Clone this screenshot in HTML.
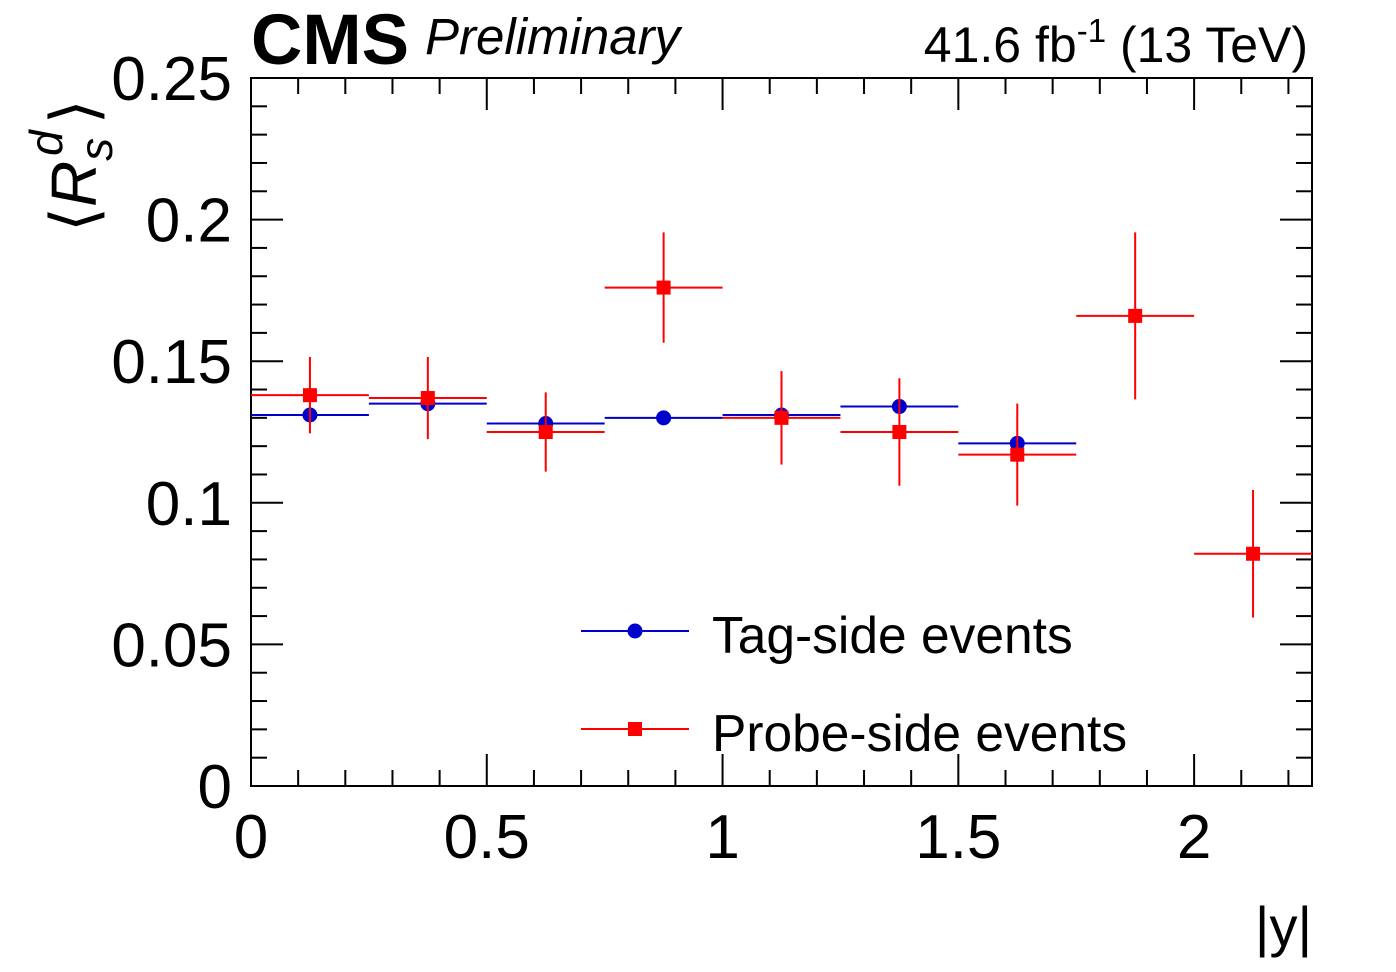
<!DOCTYPE html>
<html><head><meta charset="utf-8"><style>
html,body{margin:0;padding:0;background:#fff;}
svg{display:block;font-family:"Liberation Sans",sans-serif;}
</style></head><body>
<svg id="chart" width="1396" height="972" viewBox="0 0 1396 972" xmlns="http://www.w3.org/2000/svg">
<rect x="0" y="0" width="1396" height="972" fill="#fff"/>
<g id="axes"></g>
<g id="marks"></g>
<text x="251" y="64" font-size="71" font-weight="bold" textLength="158" lengthAdjust="spacingAndGlyphs">CMS</text>
<text x="425" y="54" font-size="51" font-style="italic">Preliminary</text>
<text x="1308" y="62" font-size="50" text-anchor="end">41.6 fb<tspan dy="-20" font-size="33">-1</tspan><tspan dy="20"> (13 TeV)</tspan></text>
<text x="1312" y="946" font-size="56" text-anchor="end">|y|</text>
<g transform="translate(96,232) rotate(-90)">
<text x="0" y="0" font-size="64">⟨<tspan font-style="italic">R</tspan><tspan font-style="italic" font-size="46" dy="16">s</tspan><tspan font-style="italic" font-size="46" dy="-50" dx="-18">d</tspan><tspan dy="34" dx="6">⟩</tspan></text>
</g>
<g>
<line x1="581" y1="631" x2="689" y2="631" stroke="#0000cc" stroke-width="2"/>
<circle cx="635" cy="631" r="7.5" fill="#0000cc"/>
<text x="712" y="653" font-size="51.5">Tag-side events</text>
<line x1="581" y1="729" x2="689" y2="729" stroke="#ff0000" stroke-width="2"/>
<rect x="628" y="722" width="14" height="14" fill="#ff0000"/>
<text x="712" y="751" font-size="51.5">Probe-side events</text>
</g>
</svg>
<script>
const binLo = [0,0.25,0.5,0.75,1.0,1.25,1.5,1.75,2.0];
const tagValues = [0.131,0.135,0.128,0.130,0.131,0.134,0.121];
const tagErrors = [0.002,0.002,0.002,0.002,0.002,0.002,0.002];
const probeValues = [0.138,0.137,0.125,0.176,0.130,0.125,0.117,0.166,0.082];
const probeErrors = [0.0135,0.0145,0.014,0.0195,0.0165,0.019,0.018,0.0295,0.0225];
const xTicks = [0,0.5,1,1.5,2];
const xTickLabels = ["0","0.5","1","1.5","2"];
const yTicks = [0,0.05,0.1,0.15,0.2,0.25];
const yTickLabels = ["0","0.05","0.1","0.15","0.2","0.25"];
const binWidth = 0.25;
const L=251,R=1312,T=78,B=786,XMAX=2.25,YMAX=0.25;
const sx=v=>L+(v/XMAX)*(R-L);
const sy=v=>B-(v/YMAX)*(B-T);
const NS="http://www.w3.org/2000/svg";
function mk(tag,attrs,parent){const e=document.createElementNS(NS,tag);for(const k in attrs)e.setAttribute(k,attrs[k]);parent.appendChild(e);return e;}
const axes=document.getElementById('axes'), marks=document.getElementById('marks');
let f=mk('rect',{x:L,y:T,width:R-L,height:B-T,fill:'none',stroke:'#000','stroke-width':2},axes);


for(let i=0;i<=22;i++){const v=i*0.1;const x=sx(v);const major=(i%5===0);const len=major?32:16;
 let t=mk('line',{x1:x,y1:B,x2:x,y2:B-len,stroke:'#000','stroke-width':2},axes);
 
 
 let t2=mk('line',{x1:x,y1:T,x2:x,y2:T+len,stroke:'#000','stroke-width':2},axes);
 
 }
for(let i=0;i<=25;i++){const v=i*0.01;const y=sy(v);const major=(i%5===0);const len=major?32:16;
 let t=mk('line',{x1:L,y1:y,x2:L+len,y2:y,stroke:'#000','stroke-width':2},axes);
 
 
 let t2=mk('line',{x1:R,y1:y,x2:R-len,y2:y,stroke:'#000','stroke-width':2},axes);
 
 }
xTicks.forEach((v,i)=>{let t=mk('text',{x:sx(v),y:858,'font-size':62,'text-anchor':'middle'},axes);t.textContent=xTickLabels[i];
 
 });
yTicks.forEach((v,i)=>{let t=mk('text',{x:232,y:sy(v)+22,'font-size':62,'text-anchor':'end'},axes);t.textContent=yTickLabels[i];
 
 });
function series(vals,errs,color,shape,name){
 vals.forEach((v,i)=>{const lo=binLo[i],c=lo+binWidth/2;const g=mk('g',{},marks);
  
  
  mk('line',{x1:sx(lo),y1:sy(v),x2:sx(lo+binWidth),y2:sy(v),stroke:color,'stroke-width':2},g);
  mk('line',{x1:sx(c),y1:sy(v-errs[i]),x2:sx(c),y2:sy(v+errs[i]),stroke:color,'stroke-width':2},g);
  if(shape==='c')mk('circle',{cx:sx(c),cy:sy(v),r:7.5,fill:color},g);
  else mk('rect',{x:sx(c)-7,y:sy(v)-7,width:14,height:14,fill:color},g);});}
series(tagValues,tagErrors,'#0000cc','c','tag-side');
series(probeValues,probeErrors,'#ff0000','s','probe-side');
</script>
</body></html>
